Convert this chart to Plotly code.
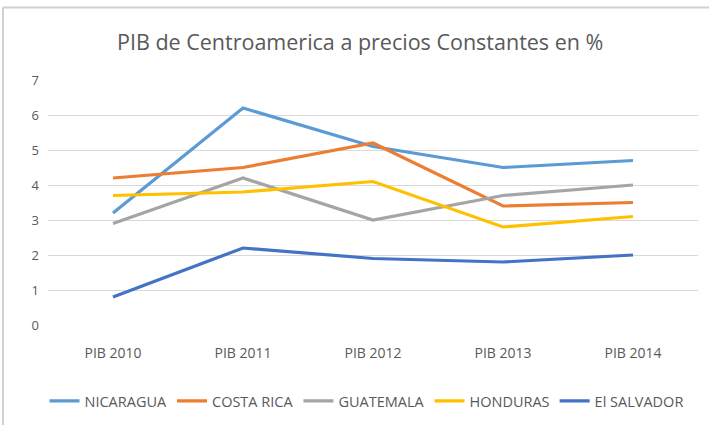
import plotly.graph_objects as go

categories = ["PIB 2010", "PIB 2011", "PIB 2012", "PIB 2013", "PIB 2014"]
nicaragua = [3.2, 6.2, 5.1, 4.5, 4.7]
costa_rica = [4.2, 4.5, 5.2, 3.4, 3.5]
guatemala = [2.9, 4.2, 3.0, 3.7, 4.0]
honduras = [3.7, 3.8, 4.1, 2.8, 3.1]
el_salvador = [0.8, 2.2, 1.9, 1.8, 2.0]

series = [
    ("NICARAGUA", nicaragua, "#5B9BD5"),
    ("COSTA RICA", costa_rica, "#ED7D31"),
    ("GUATEMALA", guatemala, "#A5A5A5"),
    ("HONDURAS", honduras, "#FFC000"),
    ("El SALVADOR", el_salvador, "#4472C4"),
]

W, H = 709, 425
L, R, T, B = 48, 11, 80, 100

fig = go.Figure()
for name, vals, col in series:
    fig.add_trace(go.Scatter(x=categories, y=vals, name=name, mode="lines",
                             line=dict(color=col, width=3.2)))

pw = W - L - R
ph = H - T - B
def px(x):
    return (x - L) / pw
def py(y):
    return (H - B - y) / ph

fig.update_layout(
    width=W, height=H,
    margin=dict(l=L, r=R, t=T, b=B, autoexpand=False),
    paper_bgcolor="white", plot_bgcolor="white",
    font=dict(family="Open Sans, Liberation Sans, sans-serif", color="#595959", size=12),
    title=dict(text="PIB de Centroamerica a precios Constantes en %",
               x=0.508, xanchor="center", y=1 - 42 / H, yanchor="middle",
               font=dict(size=21.5, color="#595959", family="Open Sans, Liberation Sans, sans-serif")),
    xaxis=dict(range=[-0.5, 4.5], showgrid=False, zeroline=False, showline=False, ticks="",
               ticklabelstandoff=18, tickfont=dict(size=14, color="#595959")),
    yaxis=dict(range=[0, 7], dtick=1, showgrid=True, gridcolor="#D9D9D9", gridwidth=1,
               zeroline=False, showline=False, ticks="", ticklabelstandoff=8,
               tickfont=dict(size=13, color="#595959")),
    legend=dict(orientation="h", x=0.49, xanchor="center", y=py(401), yanchor="middle",
                font=dict(size=14.5, color="#595959"), itemwidth=30, tracegroupgap=0),
    showlegend=True,
)

fig.add_shape(type="line", xref="paper", yref="paper", x0=px(3), x1=px(709), y0=py(7.5), y1=py(7.5),
              line=dict(color="#D0D0D0", width=2))
fig.add_shape(type="line", xref="paper", yref="paper", x0=px(3), x1=px(3), y0=py(7.5), y1=py(425),
              line=dict(color="#D0D0D0", width=2))

fig.write_html("out.html", config={"displayModeBar": False},
               post_script="document.body.style.margin='0';")
